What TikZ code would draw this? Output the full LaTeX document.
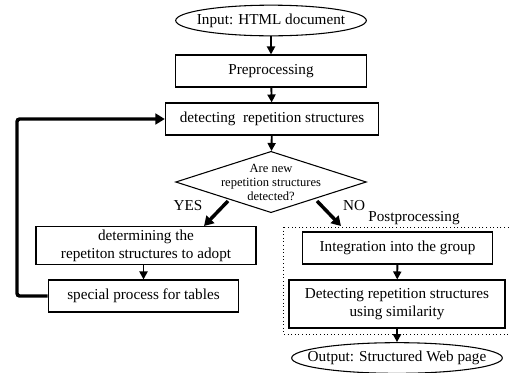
\documentclass[tikz,border=0pt]{standalone}
\usepackage{fontspec}
\setmainfont{Liberation Serif}
\usetikzlibrary{arrows.meta,shapes.geometric}
\tikzset{
  procbox/.style={draw, line width=0.8pt, minimum height=24pt, align=center, inner sep=2pt},
  termnode/.style={draw, ellipse, line width=0.8pt, inner sep=0pt},
  flow/.style={line width=1.4pt, -{Triangle[length=6pt, width=6pt]}},
  bigflow/.style={line width=2.6pt, -{Triangle[length=7pt, width=8pt]}},
}
\newcommand{\termtext}[1]{\makebox[0pt]{#1}}
\begin{document}
\begin{tikzpicture}[x=0.75pt, y=-0.75pt, font=\fontsize{11.4}{13}\selectfont]
        \useasboundingbox (0, 0) rectangle (509, 372);
        \node[termnode, minimum width=143pt, minimum height=23pt] (input) at (271, 20.5) {\termtext{Input: HTML document}};
        \node[procbox, minimum width=143pt] (prep) at (271, 71) {Preprocessing};
        \node[procbox, minimum width=160pt] (detect) at (272, 119) {detecting~ repetition structures};
        \node[draw, diamond, line width=0.8pt, minimum width=143pt, minimum height=46pt, inner sep=0pt, aspect=3.1] (ask) at (271, 182) {};
        \node[align=center, font=\fontsize{9.4}{10.5}\selectfont] at (ask) {Are new\\repetition structures\\detected?};
        \node (yes) at (188, 206) {YES};
        \node (no) at (354, 206) {NO};
        \node (post) at (414, 218) {Postprocessing};
        \draw[dotted, line width=0.7pt] (283, 227) rectangle (512, 334);
        \node[procbox, minimum width=165pt, minimum height=28pt, font=\fontsize{11.4}{13.5}\selectfont] (adopt) at (146, 245.5) {determining the\\repetiton structures to adopt};
        \node[procbox, minimum width=143pt] (tables) at (143.5, 296) {special process for tables};
        \node[procbox, minimum width=143pt] (group) at (397.5, 248) {Integration into the group};
        \node[procbox, minimum width=162pt, minimum height=36pt, font=\fontsize{11.4}{13.5}\selectfont] (simil) at (397, 304) {Detecting repetition structures\\using similarity};
        \node[termnode, minimum width=158pt, minimum height=23pt] (output) at (397, 358) {\termtext{Output: Structured Web page}};
        \coordinate (yesa) at (228, 201);
        \coordinate (noa) at (317, 201);
        \coordinate (loop) at (17, 119);
        % flow down
        \draw[flow] (input) -- (prep);
        \draw[flow] (prep) -- (detect);
        \draw[flow] (detect) -- (ask);
        \draw[bigflow] (yesa) -- (204, 226);
        \draw[bigflow] (noa) -- (341, 226);
        \draw[flow] (adopt.south -| tables) -- (tables);
        \draw[flow] (group) -- (simil);
        \draw[flow] (simil) -- (output);
        % loop back
        \draw[bigflow, rounded corners=2pt] (tables.west) -| (loop) -- (detect.west);
\end{tikzpicture}
\end{document}
